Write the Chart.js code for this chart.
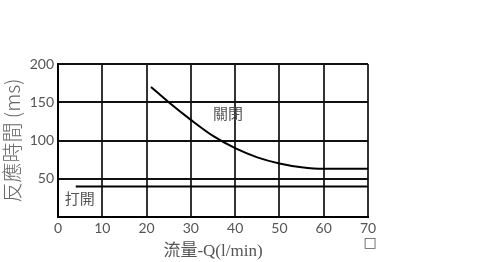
<!DOCTYPE html>
<html>
<head>
<meta charset="utf-8">
<script src="https://cdn.jsdelivr.net/npm/chart.js@4/dist/chart.umd.min.js"></script>
<style>
  html, body { margin: 0; padding: 0; background: #fff; }
</style>
</head>
<body>
<canvas id="chart" width="500" height="262"></canvas>
<script>
// closing curve (flow l/min, response ms)
const closeFlow = [21, 25, 30, 35, 40, 45, 50, 55, 60, 70];
const closeTime = [170, 150, 127, 106, 90, 78, 70, 65, 63, 63];
// opening line
const openFlow = [4, 70];
const openTime = [40, 40];
const xTicks = [0, 10, 20, 30, 40, 50, 60, 70];
const yTicks = [50, 100, 150, 200];

const ctx = document.getElementById('chart');

const labelPlugin = {
  id: 'labels',
  afterDraw(chart) {
    const c = chart.ctx;
    const xs = chart.scales.x, ys = chart.scales.y;
    c.save();
    c.fillStyle = '#555';
    c.font = '15px "Noto Sans CJK TC"';
    c.textBaseline = 'middle';
    c.textAlign = 'left';
    c.fillText('關閉', xs.getPixelForValue(35), ys.getPixelForValue(136));
    c.fillText('打開', xs.getPixelForValue(1.5), ys.getPixelForValue(25));
    c.font = '14px "DejaVu Sans"';
    c.textAlign = 'center';
    c.fillText('□', chart.chartArea.right + 2, 243);
    c.restore();
  }
};

new Chart(ctx, {
  type: 'scatter',
  data: {
    datasets: [{
      data: closeFlow.map((x, i) => ({ x: x, y: closeTime[i] })),
      showLine: true,
      borderColor: '#000',
      borderWidth: 2,
      pointRadius: 0,
      cubicInterpolationMode: 'monotone'
    }, {
      data: openFlow.map((x, i) => ({ x: x, y: openTime[i] })),
      showLine: true,
      borderColor: '#000',
      borderWidth: 2,
      pointRadius: 0
    }]
  },
  options: {
    responsive: false,
    animation: false,
    layout: { padding: { top: 64, right: 132, left: 0, bottom: 0 } },
    plugins: { legend: { display: false }, tooltip: { enabled: false } },
    scales: {
      x: {
        type: 'linear',
        min: 0, max: 70,
        afterBuildTicks: s => { s.ticks = xTicks.map(v => ({ value: v })); },
        afterFit: s => { s.height = 45; },
        grid: { color: '#333', lineWidth: 2, drawTicks: false },
        border: { color: '#000', width: 2 },
        ticks: { color: '#555', font: { family: 'Lato', size: 14 }, padding: 3 },
        title: {
          display: true,
          text: '流量-Q(l/min)',
          color: '#555',
          font: { family: '"Liberation Serif", "Noto Sans CJK TC"', size: 17 },
          padding: { top: 0, bottom: 0 }
        }
      },
      y: {
        min: 0, max: 200,
        afterBuildTicks: s => { s.ticks = [0].concat(yTicks).map(v => ({ value: v })); },
        afterFit: s => { s.width = 58; },
        grid: { color: '#111', lineWidth: 2, drawTicks: false },
        border: { color: '#000', width: 2 },
        ticks: {
          color: '#555', font: { family: 'Lato', size: 14 }, padding: 4,
          callback: v => (v === 0 ? '' : v)
        },
        title: {
          display: true,
          text: '反應時間 (ms)',
          color: '#666',
          font: { family: '"Noto Sans CJK TC", "DejaVu Sans"', size: 20, weight: '300' },
          padding: { top: 0, bottom: 0 }
        }
      }
    }
  },
  plugins: [labelPlugin]
});
</script>
</body>
</html>
